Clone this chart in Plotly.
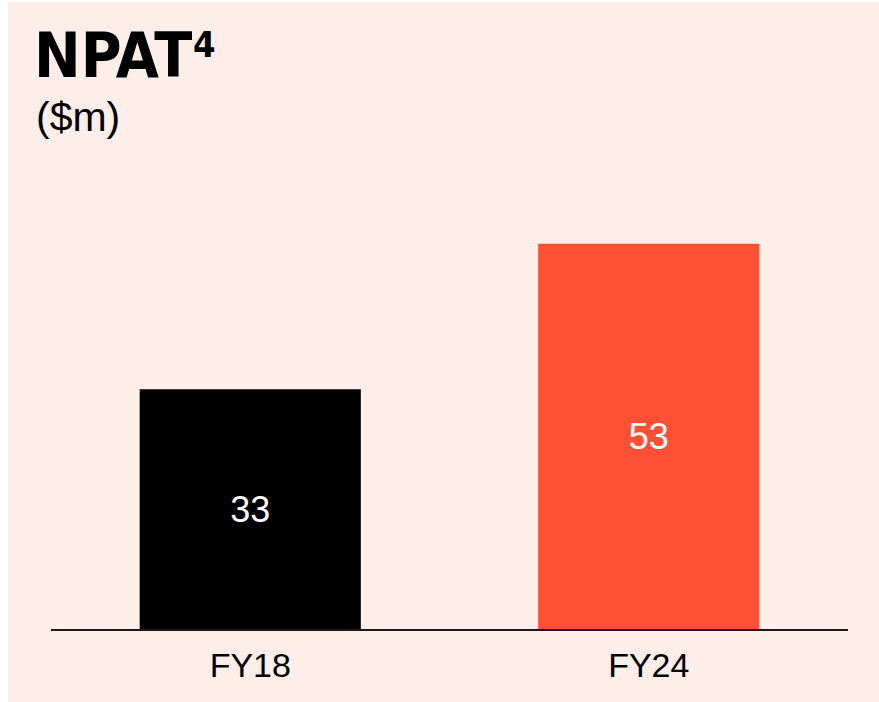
import plotly.graph_objects as go

categories = ["FY18", "FY24"]
values = [33, 53]
bar_colors = ["#000000", "#FF5035"]
value_labels = ["33", "53"]

W, H = 871, 700
ML, MR, MT, MB = 43, 31, 191, 73
PW = W - ML - MR
PH = H - MT - MB


def px_x(p):
    return (p - ML) / PW


def px_y(p):
    return (H - MB - p) / PH


fig = go.Figure()
fig.add_trace(go.Bar(
    x=categories,
    y=values,
    marker=dict(color=bar_colors, line=dict(width=0)),
    text=value_labels,
    textposition="inside",
    insidetextanchor="middle",
    textfont=dict(color="#FFFFFF", size=36, family="Liberation Sans, Arial, sans-serif"),
    constraintext="none",
    hoverinfo="skip",
))

fig.update_layout(
    width=W, height=H,
    margin=dict(l=ML, r=MR, t=MT, b=MB, pad=0),
    paper_bgcolor="#FDEEE9",
    plot_bgcolor="rgba(0,0,0,0)",
    bargap=0.445,
    showlegend=False,
    xaxis=dict(
        showline=True, linecolor="#1a1a1a", linewidth=2,
        showgrid=False, zeroline=False, ticks="",
        tickfont=dict(size=34, color="#000000", family="Liberation Sans, Arial, sans-serif"),
        ticklabelstandoff=5,
    ),
    yaxis=dict(range=[0, 60], visible=False, showgrid=False, zeroline=False),
    annotations=[
        dict(text="<b>NPAT</b>", xref="paper", yref="paper",
             x=px_x(25), y=px_y(54), xanchor="left", yanchor="middle",
             showarrow=False, borderpad=0,
             font=dict(size=62, color="#000000",
                       family="Liberation Sans Narrow, DejaVu Sans Condensed, Arial Narrow, sans-serif")),
        dict(text="<b>4</b>", xref="paper", yref="paper",
             x=px_x(184), y=px_y(42), xanchor="left", yanchor="middle",
             showarrow=False, borderpad=0,
             font=dict(size=36, color="#000000",
                       family="Liberation Sans Narrow, DejaVu Sans Condensed, Arial Narrow, sans-serif")),
        dict(text="($m)", xref="paper", yref="paper",
             x=px_x(26), y=px_y(115), xanchor="left", yanchor="middle",
             showarrow=False,
             font=dict(size=41, color="#000000", family="Liberation Sans, Arial, sans-serif")),
    ],
)

fig.write_html("out.html", post_script="document.body.style.margin='2px 0 0 8px';")
